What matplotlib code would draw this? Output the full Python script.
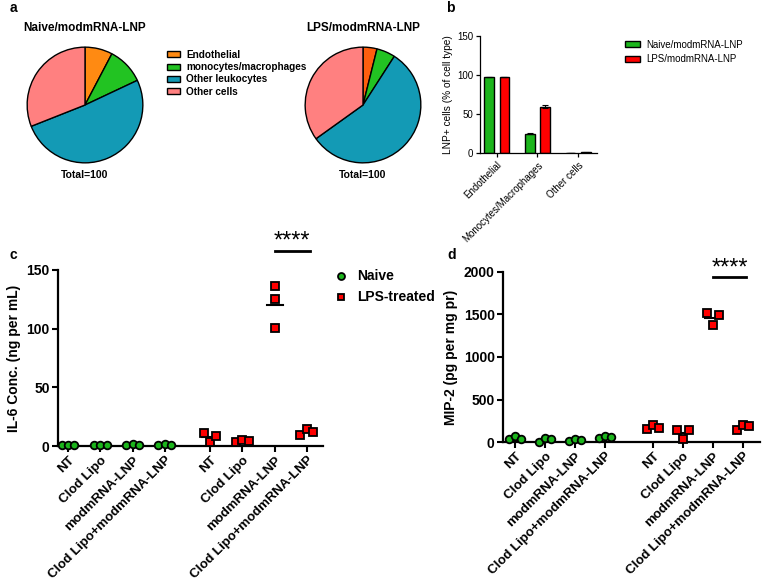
import matplotlib
matplotlib.use("Agg")
import matplotlib.pyplot as plt
from matplotlib.patches import Patch
from matplotlib.lines import Line2D

plt.rcParams['font.family'] = ['Liberation Sans', 'DejaVu Sans']

W, H = 762, 585

# panel a: share of LNP+ cells by cell type
pie_labels = ["Endothelial", "monocytes/macrophages", "Other leukocytes", "Other cells"]
naive_pie = [7.7, 10.3, 51.0, 31.0]
lps_pie = [3.9, 5.2, 56.0, 34.9]

# panel b: LNP+ cells (% of cell type)
cell_types = ["Endothelial", "Monocytes/Macrophages", "Other cells"]
naive_lnp = [98, 25, 0]
naive_lnp_err = [0, 1, 0]
lps_lnp = [98, 59.5, 0.8]
lps_lnp_err = [0, 1.5, 0.3]

# panels c and d: cytokines, three mice per group
groups = ["NT", "Clod Lipo", "modmRNA-LNP", "Clod Lipo+modmRNA-LNP"]
il6_naive = [[0.5, 1.0, 0.5], [0.5, 0.5, 0.5], [0.5, 1.5, 1.0], [1.0, 2.0, 1.0]]
il6_lps = [[10.8, 3.4, 8.8], [3.4, 4.8, 4.3], [136.4, 125.0, 100.3], [9.7, 14.5, 12.0]]
mip2_naive = [[39, 71, 31], [5, 43, 39], [12, 31, 28], [51, 75, 59]]
mip2_lps = [[150, 197, 165], [146, 39, 138], [1516, 1378, 1496], [146, 197, 185]]

GREEN = "#1cb51c"
RED = "#ff0000"


def px_axes(fig, left, top, right, bottom):
    return fig.add_axes([left / W, 1 - bottom / H, (right - left) / W, (bottom - top) / H])


fig = plt.figure(figsize=(W / 100, H / 100), dpi=100)

# ---- a: pies
pie_colors_1 = ["#ff8a12", "#22c322", "#139ab5", "#ff8080"]
pie_colors_2 = ["#ff5e0e", "#22c322", "#139ab5", "#ff8080"]
for vals, cols, cx, title in [(naive_pie, pie_colors_1, 85, "Naive/modmRNA-LNP"),
                              (lps_pie, pie_colors_2, 363, "LPS/modmRNA-LNP")]:
    r = 59
    ax = px_axes(fig, cx - r, 105 - r, cx + r, 105 + r)
    ax.pie(vals, colors=cols, startangle=90, counterclock=False,
           wedgeprops=dict(edgecolor="black", linewidth=1))
    ax.set_xlim(-1.02, 1.02)
    ax.set_ylim(-1.02, 1.02)
    fig.text(cx / W, 1 - 28 / H, title, ha="center", va="center", fontsize=8.5, fontweight="bold")
    fig.text(cx / W, 1 - 175 / H, "Total=100", ha="center", va="center", fontsize=7.5, fontweight="bold")

fig.legend([Patch(facecolor=c, edgecolor="black") for c in pie_colors_1], pie_labels,
           loc="upper left", bbox_to_anchor=(159 / W, 1 - 42 / H), frameon=False,
           prop=dict(size=7.2, weight="bold"), handlelength=1.3, handleheight=0.55,
           labelspacing=0.22, handletextpad=0.6, borderpad=0.3)
fig.text(10 / W, 1 - 8 / H, "a", fontsize=10, fontweight="bold", va="center")

# ---- b: bars
axb = px_axes(fig, 480, 36, 597, 153)
xb = range(len(cell_types))
axb.bar([i - 0.19 for i in xb], naive_lnp, 0.24, yerr=naive_lnp_err, color=GREEN,
        edgecolor="black", linewidth=1, error_kw=dict(capsize=2, elinewidth=0.8, capthick=0.8))
axb.bar([i + 0.19 for i in xb], lps_lnp, 0.24, yerr=lps_lnp_err, color=RED,
        edgecolor="black", linewidth=1, error_kw=dict(capsize=2, elinewidth=0.8, capthick=0.8))
axb.set_xlim(-0.41, 2.46)
axb.set_ylim(0, 150)
axb.set_yticks([0, 50, 100, 150])
axb.set_xticks(list(xb))
axb.set_xticklabels(cell_types, rotation=45, ha="right", rotation_mode="anchor", fontsize=7)
axb.tick_params(labelsize=7, length=3, width=0.9, pad=2)
for s in ["top", "right"]:
    axb.spines[s].set_visible(False)
for s in ["left", "bottom"]:
    axb.spines[s].set_linewidth(0.9)
axb.set_ylabel("LNP+ cells (% of cell type)", fontsize=7.3, labelpad=3)
fig.legend([Patch(facecolor=GREEN, edgecolor="black"), Patch(facecolor=RED, edgecolor="black")],
           ["Naive/modmRNA-LNP", "LPS/modmRNA-LNP"], loc="upper left",
           bbox_to_anchor=(616 / W, 1 - 31 / H), frameon=False, fontsize=7,
           handlelength=1.6, handleheight=0.6, labelspacing=0.45, handletextpad=0.6)
fig.text(446 / W, 1 - 8 / H, "b", fontsize=10, fontweight="bold", va="center")


# ---- c, d: dot plots
def dot_panel(ax, naive, lps, pos_naive, pos_lps, jit_naive, jit_lps, ylim, yticks, ylabel, sig_y, star_y, xlim):
    for k in range(len(groups)):
        for vals, pos, jit, mk, col in [(naive[k], pos_naive[k], jit_naive[k], "o", GREEN),
                                        (lps[k], pos_lps[k], jit_lps[k], "s", RED)]:
            m = sum(vals) / len(vals)
            ax.plot([pos - 0.25, pos + 0.25], [m, m], color="black", lw=1.5, zorder=2, clip_on=False)
            ax.plot([pos + j for j in jit], vals, mk, ms=5.5, mfc=col, mec="black", mew=1.3,
                    zorder=3, clip_on=False)
    ax.set_xlim(*xlim)
    ax.set_ylim(*ylim)
    ax.set_yticks(yticks)
    ax.set_xticks(list(pos_naive) + list(pos_lps))
    ax.set_xticklabels(groups + groups, rotation=45, ha="right", rotation_mode="anchor",
                       fontsize=9.5, fontweight="bold")
    for lab in ax.get_yticklabels():
        lab.set_fontweight("bold")
    ax.tick_params(axis="y", labelsize=10, length=4, width=1.5, pad=2)
    ax.tick_params(axis="x", length=4, width=1.5, pad=2)
    for s in ["top", "right"]:
        ax.spines[s].set_visible(False)
    for s in ["left", "bottom"]:
        ax.spines[s].set_linewidth(1.6)
    ax.set_ylabel(ylabel, fontsize=10, fontweight="bold", labelpad=4)
    x0, x1 = pos_lps[2], pos_lps[3] + 0.1
    ax.plot([x0, x1], [sig_y, sig_y], color="black", lw=2, clip_on=False)
    ax.text((x0 + x1) / 2, star_y, "****", ha="center", va="center", fontsize=17)


jit = [[-0.2, 0, 0.2]] * 4
jit_c_lps = [[-0.2, 0, 0.2], [-0.2, 0, 0.2], [0, 0, 0], [-0.2, 0, 0.2]]

axc = px_axes(fig, 58, 270, 323, 446)
dot_panel(axc, il6_naive, il6_lps, [0, 1, 2, 3], [4.4, 5.4, 6.4, 7.4], jit, jit_c_lps,
          (0, 150), [0, 50, 100, 150], "IL-6 Conc. (ng per mL)", 166, 174, (-0.31, 7.9))
fig.text(10 / W, 1 - 255 / H, "c", fontsize=10, fontweight="bold", va="center")
fig.legend([Line2D([], [], ls="", marker="o", ms=5, mfc=GREEN, mec="black", mew=1.3),
            Line2D([], [], ls="", marker="s", ms=5, mfc=RED, mec="black", mew=1.3)],
           ["Naive", "LPS-treated"], loc="upper left", bbox_to_anchor=(322 / W, 1 - 257 / H),
           frameon=False, prop=dict(size=10, weight="bold"), handlelength=1.0,
           handletextpad=0.6, labelspacing=0.5)

axd = px_axes(fig, 503, 272, 760, 442)
dot_panel(axd, mip2_naive, mip2_lps, [0, 1, 2, 3], [4.6, 5.6, 6.6, 7.6], jit, jit,
          (0, 2000), [0, 500, 1000, 1500, 2000], "MIP-2 (pg per mg pr)", 1940, 2040, (-0.4, 8.17))
fig.text(447 / W, 1 - 255 / H, "d", fontsize=10, fontweight="bold", va="center")

fig.savefig("out.png", dpi=100)
